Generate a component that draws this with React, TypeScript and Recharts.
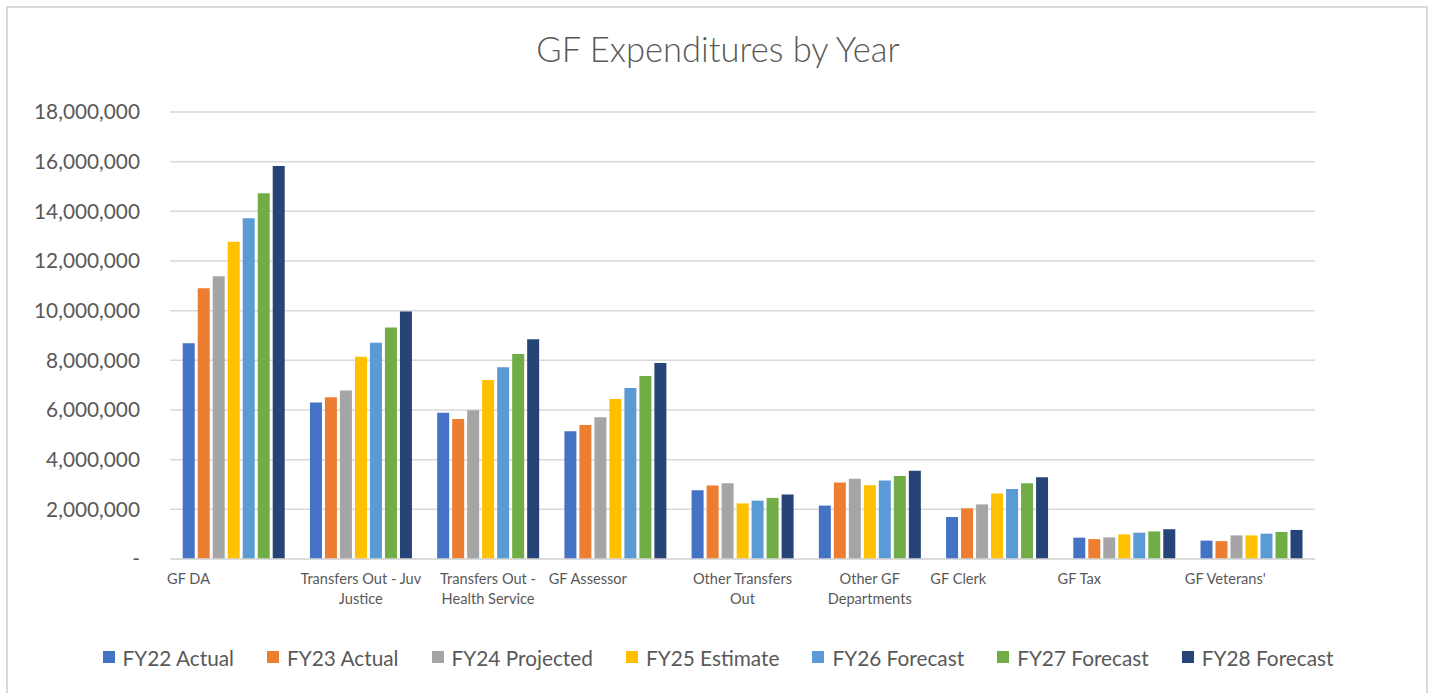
import { Bar, BarChart, CartesianGrid, Legend, XAxis, YAxis } from "recharts";

const categories = [
  "GF DA",
  "Transfers Out - Juv\nJustice",
  "Transfers Out -\nHealth Service",
  "GF Assessor",
  "Other Transfers\nOut",
  "Other GF\nDepartments",
  "GF Clerk",
  "GF Tax",
  "GF Veterans'",
];

const fy22 = [8690000, 6300000, 5890000, 5140000, 2770000, 2150000, 1690000, 860000, 740000];
const fy23 = [10900000, 6510000, 5640000, 5400000, 2960000, 3080000, 2040000, 800000, 720000];
const fy24 = [11390000, 6790000, 5990000, 5710000, 3050000, 3230000, 2200000, 870000, 950000];
const fy25 = [12780000, 8140000, 7210000, 6440000, 2240000, 2970000, 2640000, 990000, 950000];
const fy26 = [13720000, 8710000, 7720000, 6890000, 2350000, 3160000, 2820000, 1060000, 1020000];
const fy27 = [14730000, 9320000, 8260000, 7370000, 2460000, 3340000, 3050000, 1110000, 1090000];
const fy28 = [15830000, 9970000, 8850000, 7890000, 2600000, 3550000, 3290000, 1200000, 1170000];

const yTicks = [0, 2000000, 4000000, 6000000, 8000000, 10000000, 12000000, 14000000, 16000000, 18000000];

const series = [
  { key: "fy22", name: "FY22 Actual", color: "#4472C4", values: fy22 },
  { key: "fy23", name: "FY23 Actual", color: "#ED7D31", values: fy23 },
  { key: "fy24", name: "FY24 Projected", color: "#A5A5A5", values: fy24 },
  { key: "fy25", name: "FY25 Estimate", color: "#FFC000", values: fy25 },
  { key: "fy26", name: "FY26 Forecast", color: "#5B9BD5", values: fy26 },
  { key: "fy27", name: "FY27 Forecast", color: "#70AD47", values: fy27 },
  { key: "fy28", name: "FY28 Forecast", color: "#264478", values: fy28 },
];

const rows = categories.map((c, i) => {
  const r: Record<string, string | number> = { name: c };
  series.forEach((s) => (r[s.key] = s.values[i]));
  return r;
});

const W = 1436;
const H = 693;
const M = { top: 112, right: 121, left: 0, bottom: 54 };
const Y_W = 170;
const FONT = "Lato, 'Open Sans', sans-serif";
const TEXT = "#595959";
const band = (W - M.left - M.right - Y_W) / categories.length;

const fmt = (v: number) => (v === 0 ? "-" : v.toLocaleString("en-US"));

function CatTick(props: any) {
  const { x, y, payload } = props;
  const lines = String(payload.value).split("\n");
  const single = lines.length === 1;
  const tx = single ? x - band / 2 - 3 : x;
  return (
    <text x={tx} y={y} textAnchor={single ? "start" : "middle"} fill={TEXT} fontSize={14.6} fontFamily={FONT}>
      {lines.map((l, i) => (
        <tspan key={i} x={tx} dy={i === 0 ? 17 : 20}>
          {l}
        </tspan>
      ))}
    </text>
  );
}

function LegendContent() {
  return (
    <div
      style={{
        height: 30,
        display: "flex",
        justifyContent: "center",
        alignItems: "center",
        gap: 33,
        fontFamily: FONT,
        fontSize: 20.8,
        color: TEXT,
      }}
    >
      {series.map((s) => (
        <div key={s.key} style={{ display: "flex", alignItems: "center" }}>
          <span style={{ width: 12, height: 12, background: s.color, marginRight: 8, display: "inline-block" }} />
          {s.name}
        </div>
      ))}
    </div>
  );
}

export default function App() {
  return (
    <div style={{ position: "absolute", left: 0, top: 0, width: W, height: H, background: "#fff" }}>
      <div
        style={{
          position: "absolute",
          left: 6,
          top: 6,
          width: 1422,
          height: 700,
          border: "2px solid #d9d9d9",
          boxSizing: "border-box",
        }}
      />
      <div
        style={{
          position: "absolute",
          left: 0,
          top: 28,
          width: W,
          textAlign: "center",
          fontFamily: FONT,
          fontWeight: 300,
          fontSize: 34.5,
          color: TEXT,
        }}
      >
        GF Expenditures by Year
      </div>
      <div style={{ position: "absolute", left: 0, top: 0 }}>
        <BarChart width={W} height={H} data={rows} margin={M} barGap={3} barCategoryGap="10%">
          <CartesianGrid vertical={false} stroke="#d9d9d9" strokeWidth={1.5} />
          <XAxis
            dataKey="name"
            height={50}
            interval={0}
            tickLine={false}
            axisLine={{ stroke: "#d9d9d9", strokeWidth: 1.5 }}
            tick={<CatTick />}
          />
          <YAxis
            width={Y_W}
            domain={[0, 18000000]}
            ticks={yTicks}
            tickFormatter={fmt}
            axisLine={false}
            tickLine={false}
            tickSize={0}
            tickMargin={30}
            tick={{ fill: TEXT, fontSize: 20.8, fontFamily: FONT }}
          />
          <Legend
            verticalAlign="bottom"
            wrapperStyle={{ bottom: 21, left: 0, width: W }}
            content={<LegendContent />}
          />
          {series.map((s) => (
            <Bar key={s.key} dataKey={s.key} name={s.name} fill={s.color} isAnimationActive={false} />
          ))}
        </BarChart>
      </div>
    </div>
  );
}
